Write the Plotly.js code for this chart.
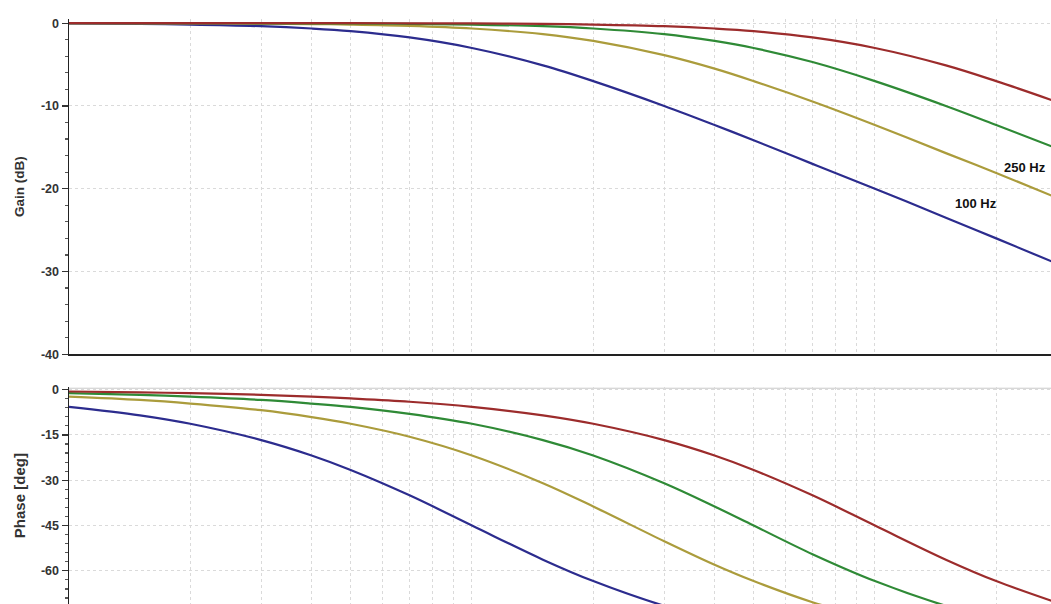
<!DOCTYPE html>
<html>
<head>
<meta charset="utf-8">
<script src="https://cdn.plot.ly/plotly-3.0.1.min.js"></script>
<style>
  html, body { margin: 0; padding: 0; background: #ffffff; }
  #chart { width: 1051px; height: 604px; }
</style>
</head>
<body>
<div id="chart"></div>
<script>
// Frequency points (Hz) read along the log x axis
var freqHz = [10, 15, 20, 30, 40, 50, 70, 100, 150, 200, 300, 400, 500, 700, 1000, 1500, 2000, 2750];

// Gain (dB) per curve
var gain100  = [-0.04, -0.1, -0.17, -0.37, -0.65, -0.97, -1.73, -3.0, -5.1, -7.0, -10.0, -12.3, -14.15, -17.0, -20.0, -23.5, -26.0, -28.8];
var gain250  = [-0.01, -0.02, -0.03, -0.06, -0.11, -0.17, -0.33, -0.65, -1.33, -2.15, -3.87, -5.5, -7.0, -9.46, -12.3, -15.7, -18.1, -20.85];
var gain500  = [0, 0, -0.01, -0.02, -0.03, -0.04, -0.08, -0.17, -0.37, -0.65, -1.33, -2.15, -3.0, -4.7, -7.0, -10.0, -12.3, -14.9];
var gain1000 = [0, 0, 0, 0, -0.01, -0.01, -0.02, -0.04, -0.1, -0.17, -0.37, -0.65, -0.97, -1.73, -3.0, -5.1, -7.0, -9.3];

// Phase (deg) per curve
var phase100  = [-5.7, -8.5, -11.3, -16.7, -21.8, -26.6, -35.0, -45.0, -56.3, -63.4, -71.6, -76.0, -78.7, -81.9, -84.3, -86.2, -87.1, -87.9];
var phase250  = [-2.3, -3.4, -4.6, -6.8, -9.1, -11.3, -15.6, -21.8, -31.0, -38.7, -50.2, -58.0, -63.4, -70.4, -76.0, -80.5, -82.9, -84.8];
var phase500  = [-1.15, -1.7, -2.3, -3.4, -4.6, -5.7, -8.0, -11.3, -16.7, -21.8, -31.0, -38.7, -45.0, -54.5, -63.4, -71.6, -76.0, -79.7];
var phase1000 = [-0.6, -0.9, -1.15, -1.7, -2.3, -2.9, -4.0, -5.7, -8.5, -11.3, -16.7, -21.8, -26.6, -35.0, -45.0, -56.3, -63.4, -70.0];

var seriesNames = ['100 Hz', '250 Hz', '500 Hz', '1 kHz'];
var seriesColors = ['#2c2c8e', '#ab9c3c', '#2f8a36', '#9c2c2c'];

// Grid positions (log grid 1..9 per decade)
var gridFreqs = [20, 30, 40, 50, 60, 70, 80, 90, 100, 200, 300, 400, 500, 600, 700, 800, 900, 1000, 2000];
var gainTicks = [0, -10, -20, -30, -40];
var gainTickText = ['0', '-10', '-20', '-30', '-40'];
var phaseTicks = [0, -15, -30, -45, -60];
var phaseTickText = ['0', '-15', '-30', '-45', '-60'];

var gains = [gain100, gain250, gain500, gain1000];
var phases = [phase100, phase250, phase500, phase1000];

var traces = [];
for (var i = 0; i < 4; i++) {
  traces.push({
    x: freqHz, y: gains[i], type: 'scatter', mode: 'lines', name: seriesNames[i],
    xaxis: 'x', yaxis: 'y',
    line: {color: seriesColors[i], width: 2.2, shape: 'spline', smoothing: 1},
    showlegend: false, hoverinfo: 'skip'
  });
}
for (var j = 0; j < 4; j++) {
  traces.push({
    x: freqHz, y: phases[j], type: 'scatter', mode: 'lines', name: seriesNames[j],
    xaxis: 'x2', yaxis: 'y2',
    line: {color: seriesColors[j], width: 2.2, shape: 'spline', smoothing: 1},
    showlegend: false, hoverinfo: 'skip'
  });
}

var FAM = 'Liberation Sans, Arial, sans-serif';
var tickFont = {family: FAM, size: 12.5, color: '#333333', weight: 'bold'};

var xCommon = {
  type: 'log', range: [1, 3.437],
  tickvals: gridFreqs, showticklabels: false, ticks: '',
  showgrid: true, gridcolor: '#dadada', griddash: 'dot', gridwidth: 1,
  zeroline: false, fixedrange: true
};

var layout = {
  width: 1051, height: 604,
  margin: {l: 69, r: 0, t: 19, b: 0, pad: 0},
  paper_bgcolor: '#ffffff', plot_bgcolor: '#ffffff',
  showlegend: false,
  xaxis: Object.assign({}, xCommon, {
    domain: [0, 1], anchor: 'y',
    showline: true, linecolor: '#222222', linewidth: 1.5, mirror: false
  }),
  xaxis2: Object.assign({}, xCommon, {
    domain: [0, 1], anchor: 'y2', showline: false
  }),
  yaxis: {
    domain: [0.4269, 1], anchor: 'x',
    range: [-40, 0.5], tickvals: gainTicks, ticktext: gainTickText,
    tickfont: tickFont, ticks: 'outside', ticklen: 6, tickwidth: 1.2, tickcolor: '#333333',
    minor: {dtick: 2, ticks: 'outside', ticklen: 3, tickcolor: '#555555', showgrid: false},
    showline: true, linecolor: '#222222', linewidth: 1.5,
    showgrid: true, gridcolor: '#dadada', griddash: 'dot', gridwidth: 1,
    zeroline: false, fixedrange: true,
    title: {text: 'Gain (dB)', font: {family: FAM, size: 13.5, color: '#333333', weight: 'bold'}, standoff: 13}
  },
  yaxis2: {
    domain: [0, 0.3705], anchor: 'x2',
    range: [-71, 0.8], tickvals: phaseTicks, ticktext: phaseTickText,
    tickfont: tickFont, ticks: 'outside', ticklen: 6, tickwidth: 1.2, tickcolor: '#333333',
    minor: {dtick: 3, ticks: 'outside', ticklen: 3, tickcolor: '#555555', showgrid: false},
    showline: true, linecolor: '#222222', linewidth: 1.5,
    showgrid: true, gridcolor: '#dadada', griddash: 'dot', gridwidth: 1,
    zeroline: false, fixedrange: true,
    title: {text: 'Phase [deg]', font: {family: FAM, size: 15, color: '#333333', weight: 'bold'}, standoff: 11}
  },
  shapes: [
    {type: 'line', xref: 'x2 domain', yref: 'y2', x0: 0, x1: 1, y0: 0.5, y1: 0.5,
     line: {color: '#d8d8d8', width: 1.5}, layer: 'below'}
  ],
  annotations: [
    {x: Math.log10(1780), y: -21.8, xref: 'x', yref: 'y', text: '100 Hz', showarrow: false,
     font: {family: FAM, size: 13, color: '#111111', weight: 'bold'},
     xanchor: 'center', yanchor: 'middle'},
    {x: 0.997, y: -17.4, xref: 'paper', yref: 'y', text: '250 Hz', showarrow: false,
     font: {family: FAM, size: 13, color: '#111111', weight: 'bold'},
     xanchor: 'right', yanchor: 'middle'}
  ]
};

Plotly.newPlot('chart', traces, layout, {displayModeBar: false, staticPlot: true});
</script>
</body>
</html>
